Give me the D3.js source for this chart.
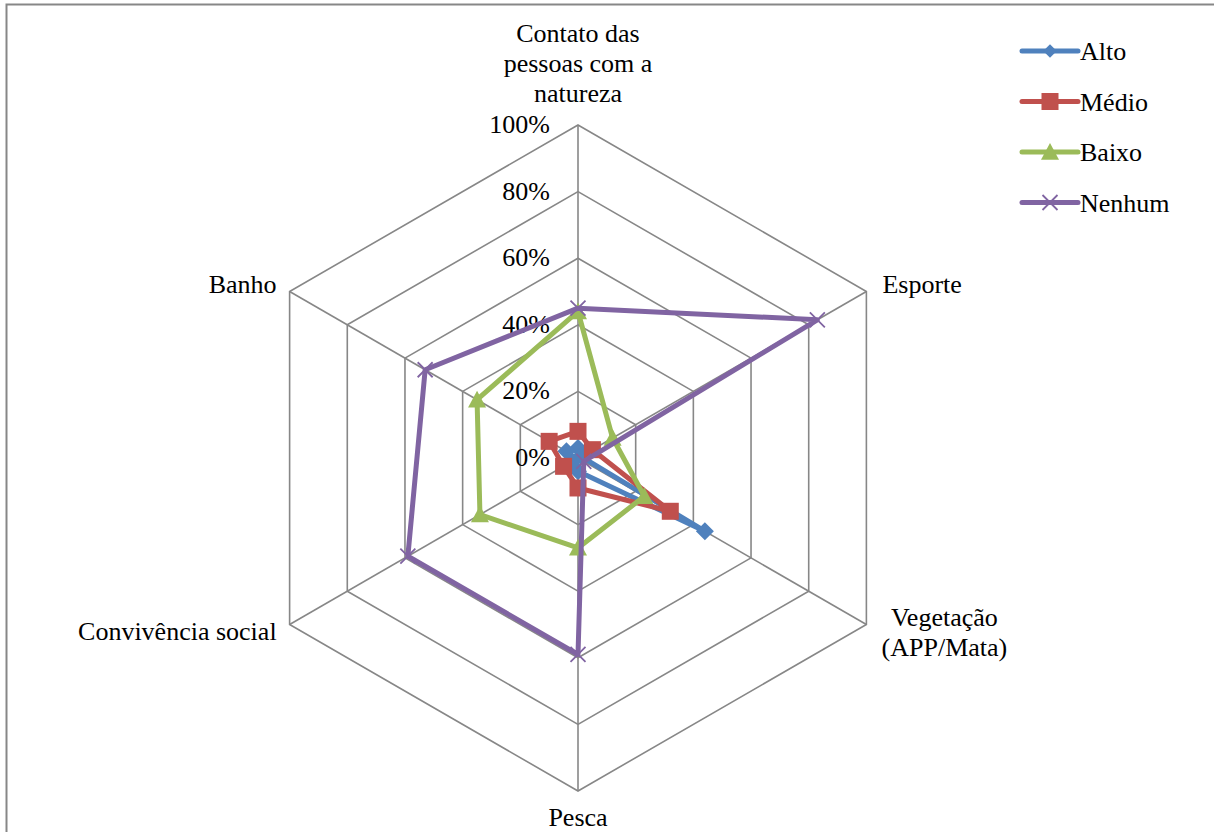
<!DOCTYPE html>
<html>
<head>
<meta charset="utf-8">
<script src="https://cdn.jsdelivr.net/npm/d3@7"></script>
<style>
  html, body { margin: 0; padding: 0; background: #fff; }
  svg { display: block; }
</style>
</head>
<body>
<svg id="chart" width="1214" height="832"></svg>
<script>
// Axes of the radar, clockwise from the top
const categories = [
  ["Contato das", "pessoas com a", "natureza"],
  ["Esporte"],
  ["Vegetação", "(APP/Mata)"],
  ["Pesca"],
  ["Convivência social"],
  ["Banho"]
];

// Share of answers (%) per level, one value per axis
const seriesNames = ["Alto", "Médio", "Baixo", "Nenhum"];
const alto   = [3, 1, 44, 4, 2, 4];
const medio  = [8, 5, 32, 9, 5, 10];
const baixo  = [44, 12, 23, 27, 34, 35];
const nenhum = [45, 83, 2, 59, 59, 53];

const tickValues = [0, 20, 40, 60, 80, 100];
const tickLabels = ["0%", "20%", "40%", "60%", "80%", "100%"];

const colors = ["#4F81BD", "#C0504D", "#9BBB59", "#8064A2"];
const symbols = ["diamond", "square", "triangle", "cross"];
const seriesValues = [alto, medio, baixo, nenhum];

const FONT = "'Liberation Serif', 'Times New Roman', 'DejaVu Serif', serif";

const svg = d3.select("#chart")
  .attr("font-family", FONT)
  .style("font-family", FONT);
const cx = 578, cy = 458, R = 333;
const r = d3.scaleLinear().domain([0, 100]).range([0, R]);
const angle = d3.scaleLinear().domain([0, categories.length]).range([0, 2 * Math.PI]);
const pt = (i, v) => {
  const a = angle(i);
  return [cx + r(v) * Math.sin(a), cy - r(v) * Math.cos(a)];
};

// frame
svg.append("path")
  .attr("d", "M6.5,840 V4.5 H1220")
  .attr("fill", "none").attr("stroke", "#878787").attr("stroke-width", 2);

// grid hexagons and spokes
const grid = svg.append("g").attr("stroke", "#878787").attr("stroke-width", 1.6).attr("fill", "none");
tickValues.slice(1).forEach(t => {
  grid.append("path").attr("d", d3.line()(categories.map((c, i) => pt(i, t))) + "Z");
});
categories.forEach((c, i) => {
  const [x, y] = pt(i, 100);
  grid.append("line").attr("x1", cx).attr("y1", cy).attr("x2", x).attr("y2", y);
});

// tick labels along the top spoke
svg.append("g").selectAll("text").data(tickValues).join("text")
  .attr("x", cx - 28)
  .attr("y", d => pt(0, d)[1] + 8)
  .attr("text-anchor", "end")
  .attr("font-size", 26)
  .style("font-family", FONT)
  .text((d, i) => tickLabels[i]);

// category labels
const labelCfg = [
  { anchor: "middle", dx: 0, dy: -83 },
  { anchor: "start", dx: 16, dy: 1 },
  { anchor: "middle", dx: 78, dy: 1 },
  { anchor: "middle", dx: 0, dy: 35 },
  { anchor: "end", dx: -13, dy: 15 },
  { anchor: "end", dx: -13, dy: 1 }
];
categories.forEach((lines, i) => {
  const [x, y] = pt(i, 100);
  const c = labelCfg[i];
  const t = svg.append("text")
    .attr("font-size", 26)
    .style("font-family", FONT)
    .attr("text-anchor", c.anchor);
  lines.forEach((ln, k) => {
    t.append("tspan").attr("x", x + c.dx).attr("y", y + c.dy + k * 30).text(ln);
  });
});

// marker drawing helper
function marker(g, type, color, x, y, scale) {
  const s = scale || 1;
  if (type === "diamond") {
    const h = 9 * s;
    g.append("path").attr("d", `M${x},${y - h}L${x + h},${y}L${x},${y + h}L${x - h},${y}Z`).attr("fill", color);
  } else if (type === "square") {
    const h = 8.5 * s;
    g.append("rect").attr("x", x - h).attr("y", y - h).attr("width", 2 * h).attr("height", 2 * h).attr("fill", color);
  } else if (type === "triangle") {
    const h = 9 * s;
    g.append("path").attr("d", `M${x},${y - h}L${x + h},${y + h * 0.85}L${x - h},${y + h * 0.85}Z`).attr("fill", color);
  } else {
    const h = 7.5 * s;
    g.append("path").attr("d", `M${x - h},${y - h}L${x + h},${y + h}M${x - h},${y + h}L${x + h},${y - h}`)
      .attr("stroke", color).attr("stroke-width", 1.8).attr("fill", "none");
  }
}

// series
seriesValues.forEach((vals, s) => {
  const g = svg.append("g");
  const pts = vals.map((v, i) => pt(i, v));
  g.append("path")
    .attr("d", d3.line()(pts) + "Z")
    .attr("fill", "none")
    .attr("stroke", colors[s])
    .attr("stroke-width", 5)
    .attr("stroke-linejoin", "round");
  pts.forEach(([x, y]) => marker(g, symbols[s], colors[s], x, y));
});

// legend
const legend = svg.append("g");
seriesNames.forEach((name, s) => {
  const y = 51 + s * 50.5;
  legend.append("line").attr("x1", 1022).attr("x2", 1078).attr("y1", y).attr("y2", y)
    .attr("stroke", colors[s]).attr("stroke-width", 5).attr("stroke-linecap", "round");
  marker(legend, symbols[s], colors[s], 1050, y, s === 0 ? 0.75 : 1);
  legend.append("text").attr("x", 1080).attr("y", y + 9).attr("font-size", 26)
    .style("font-family", FONT).text(name);
});
</script>
</body>
</html>
